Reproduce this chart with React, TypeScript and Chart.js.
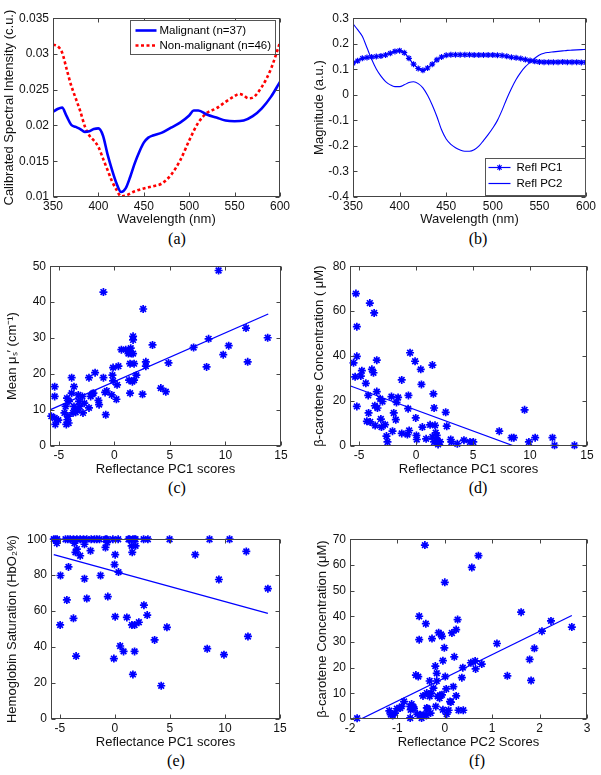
import React, { useEffect, useRef } from 'react';
import { Chart, registerables } from 'chart.js';
Chart.register(...registerables);

// ---------- Panel (a): mean calibrated spectra ----------
const malignantWl = [350,355,360,365,370,375,380,385,390,395,400,405,410,415,420,425,430,435,440,445,450,455,460,470,480,490,500,505,510,520,530,540,550,560,570,580,590,600];
const malignantVal = [0.0219,0.0223,0.0225,0.0213,0.0201,0.0198,0.0195,0.0191,0.0192,0.0195,0.0196,0.0186,0.0160,0.0138,0.0119,0.0107,0.0112,0.0128,0.0147,0.0163,0.0176,0.0183,0.0186,0.0190,0.0197,0.0204,0.0214,0.0221,0.0221,0.0215,0.0211,0.0207,0.0206,0.0207,0.0213,0.0224,0.0240,0.0261];
const nonMalignantWl = [350,355,360,365,370,375,380,385,390,395,400,405,410,415,420,425,430,440,450,460,470,480,490,500,510,520,530,540,550,555,560,565,570,580,590,600];
const nonMalignantVal = [0.0313,0.0311,0.0302,0.0279,0.0256,0.0238,0.0220,0.0199,0.0186,0.0179,0.0170,0.0154,0.0138,0.0122,0.0110,0.0101,0.0102,0.0108,0.0112,0.0115,0.0119,0.0131,0.0151,0.0179,0.0204,0.0218,0.0224,0.0233,0.0241,0.0244,0.0242,0.0238,0.0239,0.0254,0.0279,0.0316];
const aXTicks = [350,400,450,500,550,600];
const aYTicks = [0.01,0.015,0.02,0.025,0.03,0.035];

// ---------- Panel (b): principal components ----------
const pcWl = [350,355,360,365,370,375,380,385,390,395,400,405,410,415,420,425,430,435,440,445,450,455,460,465,470,475,480,485,490,495,500,505,510,515,520,525,530,535,540,545,550,555,560,565,570,575,580,585,590,595,600];
const pc1 = [0.124,0.133,0.143,0.146,0.148,0.150,0.152,0.156,0.163,0.170,0.173,0.165,0.143,0.120,0.103,0.096,0.105,0.120,0.137,0.148,0.155,0.157,0.157,0.157,0.157,0.157,0.156,0.156,0.156,0.156,0.156,0.155,0.154,0.151,0.147,0.145,0.142,0.138,0.134,0.131,0.129,0.128,0.128,0.128,0.128,0.129,0.128,0.128,0.128,0.127,0.127];
const pc2 = [0.278,0.255,0.229,0.184,0.139,0.101,0.073,0.052,0.039,0.032,0.032,0.039,0.048,0.051,0.044,0.027,-0.002,-0.040,-0.085,-0.137,-0.173,-0.194,-0.207,-0.216,-0.221,-0.221,-0.215,-0.201,-0.179,-0.156,-0.130,-0.100,-0.060,-0.015,0.025,0.060,0.088,0.110,0.127,0.143,0.156,0.163,0.166,0.168,0.170,0.172,0.174,0.175,0.176,0.177,0.178];
const bXTicks = [350,400,450,500,550,600];
const bYTicks = [-0.4,-0.3,-0.2,-0.1,0,0.1,0.2,0.3];

// ---------- Panel (c): mean mus' vs PC1 ----------
const cX = [-5.38,-5.38,-5.68,-5.38,-5.32,-5.05,-4.50,-4.39,-4.27,-4.24,-4.18,-4.33,-4.12,-4.09,-3.85,-3.85,-3.73,-3.64,-3.64,-3.55,-3.49,-3.31,-3.25,-3.19,-3.13,-2.89,-2.83,-2.71,-2.29,-2.29,-2.14,-1.98,-1.89,-1.74,-1.44,-1.38,-0.99,-0.99,-0.84,-0.78,-0.69,-0.24,-0.18,-0.12,-0.12,0.18,0.24,0.36,0.63,1.02,1.26,1.32,1.32,1.41,1.41,1.47,1.53,1.62,1.68,1.68,1.68,1.77,1.77,1.98,2.53,2.59,2.83,2.83,3.43,4.18,4.63,4.87,7.13,8.30,8.48,9.38,9.80,10.29,11.85,12.00,13.80];
const cY = [16.5,13.8,8.3,7.8,6.0,7.2,9.2,11.0,13.3,7.3,8.3,6.0,6.4,12.4,14.7,19.0,9.2,11.0,16.5,10.1,9.4,10.1,14.2,12.4,11.0,13.8,9.2,11.9,10.6,19.0,13.8,14.5,14.7,20.4,12.7,11.5,42.8,19.0,14.9,8.7,15.3,14.2,19.7,21.8,18.1,13.0,17.0,22.2,26.8,26.8,25.7,26.4,18.3,14.7,22.9,27.2,25.7,17.9,25.7,29.5,30.5,22.9,18.3,19.7,14.4,38.1,23.4,22.2,28.1,16.1,15.1,23.1,27.4,22.0,29.8,48.8,25.4,27.9,32.8,23.4,30.1];
const cFitX = [-5.75,13.85];
const cFitY = [10.1,36.7];
const cYTicks = [0,10,20,30,40,50];

// ---------- Panel (d): beta-carotene vs PC1 ----------
const dX = [-5.49,-5.28,-5.20,-5.20,-5.35,-5.20,-4.85,-4.76,-4.41,-4.32,-4.20,-4.17,-4.06,-4.03,-3.88,-3.74,-3.68,-3.62,-3.59,-3.45,-3.45,-3.39,-3.15,-3.09,-3.04,-2.95,-2.72,-2.60,-2.51,-2.16,-2.07,-1.96,-1.78,-1.72,-1.58,-1.26,-1.26,-0.76,-0.70,-0.67,-0.61,-0.53,-0.09,-0.03,0.03,0.06,0.41,0.47,0.55,0.88,1.23,1.43,1.52,1.58,1.43,1.58,1.66,1.72,1.81,1.87,1.93,2.10,2.60,2.69,3.04,3.10,3.62,4.20,4.73,5.02,7.30,8.38,8.58,9.52,9.90,10.45,11.97,12.15,13.90];
const dY = [37.0,67.8,53.1,39.9,30.8,17.6,31.1,33.5,27.9,11.0,22.5,14.7,63.6,10.7,34.1,32.6,59.2,17.9,9.1,38.2,24.2,16.9,21.0,12.0,8.4,19.8,9.5,4.4,1.8,22.0,6.6,14.7,11.7,19.4,21.6,5.6,29.4,5.1,16.6,22.5,6.9,41.5,37.7,12.5,4.7,2.9,34.1,27.4,8.4,3.2,9.4,36.0,23.2,16.9,4.0,1.8,9.2,5.9,4.7,2.6,0.7,1.8,15.0,8.8,2.9,1.8,1.0,2.6,1.8,1.8,6.6,3.7,3.7,16.1,1.8,3.7,3.7,0.3,0.3];
const dFitX = [-5.75,8.6];
const dFitY = [26.7,0];
const dYTicks = [0,20,40,60,80];

// ---------- Panel (e): HbO2 saturation vs PC1 ----------
const eX = [-5.55,-5.39,-5.24,-4.48,-4.27,-4.06,-3.76,-3.45,-3.15,-2.85,-2.55,-2.15,-1.85,-1.64,-1.39,-0.85,-0.73,-0.18,0.30,1.24,1.33,1.64,1.79,1.88,2.61,3.00,4.97,8.60,10.42,
  -5.27,-4.94,-4.97,-4.36,-4.21,-3.76,-3.67,-3.58,-3.45,-3.52,-3.15,-2.76,-2.76,-2.55,-2.21,-1.30,-0.85,-0.70,-0.64,-0.03,0.03,0.03,-0.09,0.33,0.48,0.79,1.09,1.52,1.58,1.55,1.64,1.79,1.79,1.88,2.18,2.64,2.94,3.61,4.21,4.73,7.30,8.39,9.45,9.91,11.94,12.09,13.90];
const eY = [100,100,100,100,100,100,100,100,100,100,100,100,100,100,100,100,100,100,100,100,100,100,100,100,100,100,100,100,100,
  97.8,79.8,52.3,66.2,84.6,56.0,97.8,92.7,94.5,35.0,90.8,97.2,78.0,67.0,93.6,79.8,95.4,98.2,68.1,85.9,91.4,56.9,33.6,81.7,40.6,37.6,56.5,96.3,92.7,52.3,24.8,52.3,37.6,96.3,53.8,63.3,57.8,44.0,18.5,51.0,91.4,39.1,77.6,35.8,93.2,45.9,72.5];
const eFitX = [-5.55,13.9];
const eFitY = [91.4,58.7];
const eYTicks = [0,20,40,60,80,100];

const pc1XTicks = [-5,0,5,10,15];

// ---------- Panel (f): beta-carotene vs PC2 ----------
const fX = [-1.85,-1.17,-1.14,-1.10,-1.05,-1.01,-0.94,-0.91,-0.86,-0.73,-0.73,-0.72,-0.70,-0.66,-0.65,-0.61,-0.58,-0.56,-0.54,-0.54,-0.52,-0.49,-0.46,-0.44,-0.42,-0.40,-0.39,-0.38,-0.38,-0.36,-0.32,-0.32,-0.30,-0.29,-0.27,-0.24,-0.20,-0.19,-0.17,-0.17,-0.15,-0.13,-0.11,-0.10,-0.08,-0.06,-0.06,-0.04,-0.04,-0.01,0.00,0.01,0.03,0.04,0.08,0.11,0.13,0.15,0.18,0.20,0.24,0.24,0.27,0.29,0.36,0.38,0.39,0.55,0.57,0.64,0.65,0.71,0.78,1.10,1.32,1.61,1.79,1.82,1.89,2.05,2.24,2.68];
const fY = [0.3,3.2,1.7,1.4,2.3,4.0,4.3,4.9,6.8,4.9,0.4,3.6,5.8,4.6,4.0,17.1,1.9,16.5,40.0,30.9,1.7,0.4,9.0,1.7,67.7,37.1,1.4,10.1,4.3,4.0,14.8,8.8,2.3,10.1,31.3,12.0,20.6,4.9,14.8,17.8,8.8,33.6,8.1,9.2,32.9,9.4,32.2,22.7,3.6,27.7,53.2,16.5,11.7,1.9,3.4,6.8,6.6,33.5,12.6,24.2,9.0,34.8,38.7,3.4,16.1,20.0,3.4,21.9,59.0,22.6,19.5,63.6,21.4,29.4,16.8,41.6,23.2,15.0,27.5,34.2,38.2,35.8];
const fFitX = [-1.77,2.68];
const fFitY = [0,40.3];
const fXTicks = [-2,-1,0,1,2,3];
const fYTicks = [0,10,20,30,40,50,60,70];

// ---------- styling ----------
const BLUE = '#0000ff';
const RED = '#ff0000';
const SANS = '"Liberation Sans", Arial, Helvetica, sans-serif';
const TICK_FONT = { family: SANS, size: 12 };
const TITLE_FONT = { family: SANS, size: 13 };

const pts = (xs: number[], ys: number[]) => xs.map((x, i) => ({ x, y: ys[i] }));

function drawStar(ctx: CanvasRenderingContext2D, x: number, y: number, r: number) {
  ctx.beginPath();
  for (let k = 0; k < 4; k++) {
    const a = (k * Math.PI) / 4;
    ctx.moveTo(x - r * Math.cos(a), y - r * Math.sin(a));
    ctx.lineTo(x + r * Math.cos(a), y + r * Math.sin(a));
  }
  ctx.stroke();
}

const boxPlugin = {
  id: 'matlabBox',
  afterDraw(chart: any) {
    const { ctx, chartArea: a, scales } = chart;
    const x0 = Math.round(a.left) + 0.5, x1 = Math.round(a.right) - 0.5;
    const y0 = Math.round(a.top) + 0.5, y1 = Math.round(a.bottom) - 0.5;
    ctx.save();
    ctx.strokeStyle = '#444444';
    ctx.lineWidth = 1;
    ctx.strokeRect(x0, y0, x1 - x0, y1 - y0);
    ctx.beginPath();
    scales.x.ticks.forEach((t: any) => {
      const px = Math.round(scales.x.getPixelForValue(t.value)) + 0.5;
      ctx.moveTo(px, y1); ctx.lineTo(px, y1 - 4);
      ctx.moveTo(px, y0); ctx.lineTo(px, y0 + 4);
    });
    scales.y.ticks.forEach((t: any) => {
      const py = Math.round(scales.y.getPixelForValue(t.value)) + 0.5;
      ctx.moveTo(x0, py); ctx.lineTo(x0 + 4, py);
      ctx.moveTo(x1, py); ctx.lineTo(x1 - 4, py);
    });
    ctx.stroke();
    ctx.restore();
  },
};

type LegendItem = { label: string; color: string; width: number; dash?: number[]; star?: boolean };
type LegendSpec = { right: number; top?: number; bottom?: number; w: number; h: number; rows: number[]; sx0: number; sx1: number; tx: number; items: LegendItem[] };

function legendPlugin(spec: LegendSpec) {
  return {
    id: 'boxLegend',
    afterDraw(chart: any) {
      const { ctx, chartArea: a } = chart;
      const bx = Math.round(a.right - spec.right - spec.w) + 0.5;
      const by = Math.round(spec.top != null ? a.top + spec.top : a.bottom - (spec.bottom || 0) - spec.h) + 0.5;
      ctx.save();
      ctx.fillStyle = '#ffffff';
      ctx.fillRect(bx, by, spec.w, spec.h);
      ctx.strokeStyle = '#555555';
      ctx.lineWidth = 1;
      ctx.strokeRect(bx, by, spec.w, spec.h);
      spec.items.forEach((it, i) => {
        const cy = by + spec.rows[i];
        ctx.strokeStyle = it.color;
        ctx.lineWidth = it.width;
        ctx.setLineDash(it.dash || []);
        ctx.beginPath();
        ctx.moveTo(bx + spec.sx0, cy);
        ctx.lineTo(bx + spec.sx1, cy);
        ctx.stroke();
        ctx.setLineDash([]);
        if (it.star) {
          ctx.lineWidth = 1.2;
          drawStar(ctx, bx + (spec.sx0 + spec.sx1) / 2, cy, 3);
        }
        ctx.fillStyle = '#000';
        ctx.font = `11.5px ${SANS}`;
        ctx.textBaseline = 'middle';
        ctx.textAlign = 'left';
        ctx.fillText(it.label, bx + spec.tx, cy + 0.5);
      });
      ctx.restore();
    },
  };
}

type Geom = { L: number; T: number; R: number; B: number; yt: number; xt: number };

function frame(g: Geom) {
  const left = Math.round(g.yt - 7.8);
  const top = g.T - 10;
  const right = g.R + 12;
  const bottom = Math.round(g.xt + 7.8);
  return { left, top, width: right - left, height: bottom - top, yW: g.L - left, xH: bottom - g.B };
}

type PanelSpec = {
  geom: Geom;
  datasets: any[];
  xMin: number; xMax: number; yMin: number; yMax: number;
  xTicks: number[]; yTicks: number[];
  xTitle: string; yTitle: string;
  legend?: LegendSpec;
};

function buildConfig(spec: PanelSpec): any {
  const f = frame(spec.geom);
  const axis = (which: 'x' | 'y') => ({
    type: 'linear',
    position: which === 'x' ? 'bottom' : 'left',
    min: which === 'x' ? spec.xMin : spec.yMin,
    max: which === 'x' ? spec.xMax : spec.yMax,
    grid: { display: false, drawTicks: false },
    border: { display: false },
    ticks: {
      font: TICK_FONT,
      color: '#111',
      padding: which === 'x' ? 2 : 4,
      autoSkip: false,
      maxRotation: 0,
      minRotation: 0,
      callback: (v: number) => String(v),
    },
    afterBuildTicks: (s: any) => {
      s.ticks = (which === 'x' ? spec.xTicks : spec.yTicks).map((v) => ({ value: v }));
    },
    afterFit: (s: any) => {
      if (which === 'x') s.height = f.xH; else s.width = f.yW;
    },
    title: {
      display: true,
      text: which === 'x' ? spec.xTitle : spec.yTitle,
      font: TITLE_FONT,
      color: '#111',
      padding: 0,
    },
  });
  return {
    type: 'scatter',
    data: { datasets: spec.datasets },
    options: {
      responsive: false,
      animation: false,
      events: [],
      layout: { padding: { left: 0, top: 10, right: 12, bottom: 0 } },
      plugins: { legend: { display: false }, tooltip: { enabled: false } },
      scales: { x: axis('x'), y: axis('y') },
    },
    plugins: spec.legend ? [boxPlugin, legendPlugin(spec.legend)] : [boxPlugin],
  };
}

const scatterDs = (xs: number[], ys: number[]) => ({
  data: pts(xs, ys),
  showLine: false,
  pointStyle: 'star',
  pointRadius: 4,
  pointBorderWidth: 1.7,
  borderColor: BLUE,
  backgroundColor: BLUE,
  clip: false,
});
const fitDs = (xs: number[], ys: number[]) => ({
  data: pts(xs, ys),
  showLine: true,
  pointRadius: 0,
  borderColor: BLUE,
  borderWidth: 1.3,
});

const panels: PanelSpec[] = [
  {
    geom: { L: 53, T: 17, R: 280, B: 197, yt: 10, xt: 219 },
    datasets: [
      { data: pts(malignantWl, malignantVal), showLine: true, pointRadius: 0, borderColor: BLUE, borderWidth: 2.6, cubicInterpolationMode: 'monotone' },
      { data: pts(nonMalignantWl, nonMalignantVal), showLine: true, pointRadius: 0, borderColor: RED, borderWidth: 2.6, borderDash: [3, 2.5], cubicInterpolationMode: 'monotone' },
    ],
    xMin: 350, xMax: 600, yMin: 0.01, yMax: 0.035,
    xTicks: aXTicks, yTicks: aYTicks,
    xTitle: 'Wavelength (nm)', yTitle: 'Calibrated Spectral Intensity (c.u.)',
    legend: {
      right: 5, top: 2, w: 145, h: 34, rows: [10, 25], sx0: 5, sx1: 26, tx: 29,
      items: [
        { label: 'Malignant (n=37)', color: BLUE, width: 2.6 },
        { label: 'Non-malignant (n=46)', color: RED, width: 2.6, dash: [3, 2.5] },
      ],
    },
  },
  {
    geom: { L: 353, T: 17, R: 586, B: 197, yt: 320, xt: 219 },
    datasets: [
      { data: pts(pcWl, pc1), showLine: true, pointStyle: 'star', pointRadius: 3, pointBorderWidth: 1.2, borderColor: BLUE, backgroundColor: BLUE, borderWidth: 1.2, cubicInterpolationMode: 'monotone' },
      { data: pts(pcWl, pc2), showLine: true, pointRadius: 0, borderColor: BLUE, borderWidth: 1.1, cubicInterpolationMode: 'monotone' },
    ],
    xMin: 350, xMax: 600, yMin: -0.4, yMax: 0.3,
    xTicks: bXTicks, yTicks: bYTicks,
    xTitle: 'Wavelength (nm)', yTitle: 'Magnitude (a.u.)',
    legend: {
      right: 1, bottom: 2, w: 100, h: 37, rows: [9, 25], sx0: 3, sx1: 25, tx: 31,
      items: [
        { label: 'Refl PC1', color: BLUE, width: 1.2, star: true },
        { label: 'Refl PC2', color: BLUE, width: 1.2 },
      ],
    },
  },
  {
    geom: { L: 50, T: 265, R: 281, B: 446, yt: 13, xt: 469 },
    datasets: [scatterDs(cX, cY), fitDs(cFitX, cFitY)],
    xMin: -5.8, xMax: 15, yMin: 0, yMax: 50,
    xTicks: pc1XTicks, yTicks: cYTicks,
    xTitle: 'Reflectance PC1 scores', yTitle: 'Mean \u03bc\u209b\u2032 (cm\u207b\u00b9)',
  },
  {
    geom: { L: 350, T: 265, R: 587, B: 446, yt: 320, xt: 469 },
    datasets: [scatterDs(dX, dY), fitDs(dFitX, dFitY)],
    xMin: -5.8, xMax: 15, yMin: 0, yMax: 80,
    xTicks: pc1XTicks, yTicks: dYTicks,
    xTitle: 'Reflectance PC1 scores', yTitle: '\u03b2-carotene Concentration ( \u03bcM)',
  },
  {
    geom: { L: 51, T: 538, R: 280, B: 719, yt: 13, xt: 742 },
    datasets: [scatterDs(eX, eY), fitDs(eFitX, eFitY)],
    xMin: -5.8, xMax: 15, yMin: 0, yMax: 100,
    xTicks: pc1XTicks, yTicks: eYTicks,
    xTitle: 'Reflectance PC1 scores', yTitle: 'Hemoglobin Saturation (HbO\u2082%)',
  },
  {
    geom: { L: 350, T: 538, R: 587, B: 719, yt: 323, xt: 742 },
    datasets: [scatterDs(fX, fY), fitDs(fFitX, fFitY)],
    xMin: -2, xMax: 3, yMin: 0, yMax: 70,
    xTicks: fXTicks, yTicks: fYTicks,
    xTitle: 'Reflectance PC2 Scores', yTitle: '\u03b2-carotene Concentration (\u03bcM)',
  },
];

const captions = [
  { text: '(a)', x: 177, y: 239 },
  { text: '(b)', x: 478, y: 239 },
  { text: '(c)', x: 177, y: 488 },
  { text: '(d)', x: 478, y: 488 },
  { text: '(e)', x: 176, y: 761 },
  { text: '(f)', x: 477, y: 761 },
];

function Panel({ spec }: { spec: PanelSpec }) {
  const ref = useRef<HTMLCanvasElement | null>(null);
  const f = frame(spec.geom);
  useEffect(() => {
    if (!ref.current) return;
    const chart = new Chart(ref.current, buildConfig(spec));
    return () => chart.destroy();
  }, [spec]);
  return (
    <canvas
      ref={ref}
      width={f.width}
      height={f.height}
      style={{ position: 'absolute', left: f.left, top: f.top, width: f.width, height: f.height }}
    />
  );
}

export default function App() {
  return (
    <div style={{ position: 'absolute', left: 0, top: 0, width: 601, height: 775, background: '#fff', overflow: 'hidden' }}>
      {panels.map((p, i) => (
        <Panel key={i} spec={p} />
      ))}
      {captions.map((c) => (
        <div
          key={c.text}
          style={{
            position: 'absolute',
            left: c.x,
            top: c.y,
            transform: 'translate(-50%, -50%)',
            fontFamily: '"Liberation Serif", "Times New Roman", serif',
            fontSize: 16,
            color: '#000',
            lineHeight: 1,
            whiteSpace: 'nowrap',
          }}
        >
          {c.text}
        </div>
      ))}
    </div>
  );
}
